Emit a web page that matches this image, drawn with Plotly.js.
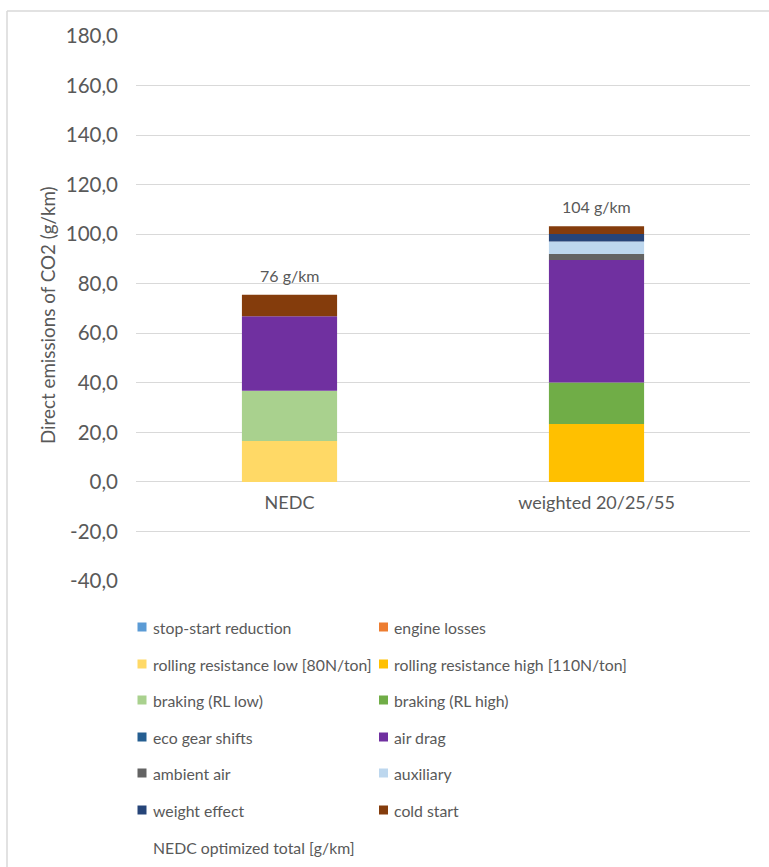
<!DOCTYPE html>
<html>
<head>
<meta charset="utf-8">
<script src="https://cdn.plot.ly/plotly-3.0.1.min.js"></script>
<style>html,body{margin:0;padding:0;background:#fff;}#chart{width:769px;height:867px;}</style>
</head>
<body>
<div id="chart"></div>
<script>
// ---- data ----
const categories = ['NEDC', 'weighted 20/25/55'];
const stopStartReduction = [0, 0];
const engineLosses = [0, 0];
const rollingLow = [16.5, 0];
const rollingHigh = [0, 23.4];
const brakingLow = [20.3, 0];
const brakingHigh = [0, 16.7];
const ecoGearShifts = [0, 0];
const airDrag = [30.1, 49.5];
const ambientAir = [0, 2.4];
const auxiliary = [0, 5.0];
const weightEffect = [0, 3.1];
const coldStart = [8.7, 3.1];
const optimizedTotal = [76, 104];
const totalLabels = ['76 g/km', '104 g/km'];
const seriesNames = ['stop-start reduction', 'engine losses', 'rolling resistance low [80N/ton]',
  'rolling resistance high [110N/ton]', 'braking (RL low)', 'braking (RL high)', 'eco gear shifts',
  'air drag', 'ambient air', 'auxiliary', 'weight effect', 'cold start'];
const totalName = 'NEDC optimized total [g/km]';
const yTickVals = [-40, -20, 0, 20, 40, 60, 80, 100, 120, 140, 160, 180];
const yTickText = ['-40,0', '-20,0', '0,0', '20,0', '40,0', '60,0', '80,0', '100,0', '120,0', '140,0', '160,0', '180,0'];
const yTitle = 'Direct emissions of CO2 (g/km)';

// ---- styles ----
const colors = ['#5b9bd5', '#ed7d31', '#ffd966', '#ffc000', '#a9d18e', '#70ad47', '#255e91',
  '#7030a0', '#636363', '#bdd7ee', '#264478', '#843c0c'];
const seriesValues = [stopStartReduction, engineLosses, rollingLow, rollingHigh, brakingLow, brakingHigh,
  ecoGearShifts, airDrag, ambientAir, auxiliary, weightEffect, coldStart];

const FONT = 'Lato, "Open Sans", sans-serif';
const TXT = '#595959';
const W = 769, H = 867;
const L = 136, R = 19, T = 36, B = 286;
const PW = W - L - R, PH = H - T - B;
const px = x => (x - L) / PW;
const py = y => (H - B - y) / PH;

const traces = seriesValues.map((vals, i) => ({
  type: 'bar', x: categories, y: vals, name: seriesNames[i],
  marker: {color: colors[i], line: {width: 0}},
  hoverinfo: 'name+y', showlegend: false
}));

const annotations = categories.map((c, i) => ({
  x: c, y: optimizedTotal[i], xref: 'x', yref: 'y', text: totalLabels[i],
  showarrow: false, yshift: 18, font: {family: FONT, size: 16, color: TXT}
}));

// y-axis title
annotations.push({
  xref: 'paper', yref: 'paper', x: px(47), y: py(315), text: yTitle, textangle: -90,
  showarrow: false, font: {family: FONT, size: 18.8, color: TXT}, xanchor: 'center', yanchor: 'middle'
});

// manual legend
const shapes = [];
const colX = [[137.5, 151], [379, 392]];
const rowY = [627, 664, 700, 737, 773, 810, 847];
const legendNames = seriesNames.concat([totalName]);
legendNames.forEach((name, i) => {
  const col = i % 2, row = Math.floor(i / 2);
  const cy = rowY[row];
  if (i < colors.length) {
    shapes.push({type: 'rect', xref: 'paper', yref: 'paper',
      x0: px(colX[col][0]), x1: px(colX[col][0] + 9), y0: py(cy - 4.5), y1: py(cy + 4.5),
      fillcolor: colors[i], line: {width: 0}});
  }
  annotations.push({xref: 'paper', yref: 'paper', x: px(colX[col][1]), y: py(cy), text: name,
    showarrow: false, xanchor: 'left', yanchor: 'middle',
    font: {family: FONT, size: 15.8, color: TXT}});
});

// chart border (top and left visible)
shapes.push({type: 'line', xref: 'paper', yref: 'paper', x0: px(7), x1: px(769), y0: py(11), y1: py(11),
  line: {color: '#d9d9d9', width: 1.5}});
shapes.push({type: 'line', xref: 'paper', yref: 'paper', x0: px(7), x1: px(7), y0: py(11), y1: py(867),
  line: {color: '#d9d9d9', width: 1.5}});

const layout = {
  width: W, height: H,
  margin: {l: L, r: R, t: T, b: B, pad: 0},
  paper_bgcolor: '#fff', plot_bgcolor: '#fff',
  barmode: 'relative', bargap: 0.69,
  showlegend: false,
  font: {family: FONT, color: TXT},
  xaxis: {
    type: 'category', anchor: 'free', position: py(482),
    showline: false, showgrid: false, zeroline: false, ticks: '',
    tickfont: {family: FONT, size: 18, color: TXT}, ticklabelstandoff: 8, fixedrange: true
  },
  yaxis: {
    range: [-40, 180], tickvals: yTickVals, ticktext: yTickText,
    showgrid: true, gridcolor: '#d9d9d9', gridwidth: 1.3, zeroline: false, showline: false,
    ticks: '', tickfont: {family: FONT, size: 20.5, color: TXT}, ticklabelstandoff: 17, fixedrange: true
  },
  annotations: annotations,
  shapes: shapes
};

Plotly.newPlot('chart', traces, layout, {displayModeBar: false, staticPlot: false});
</script>
</body>
</html>
